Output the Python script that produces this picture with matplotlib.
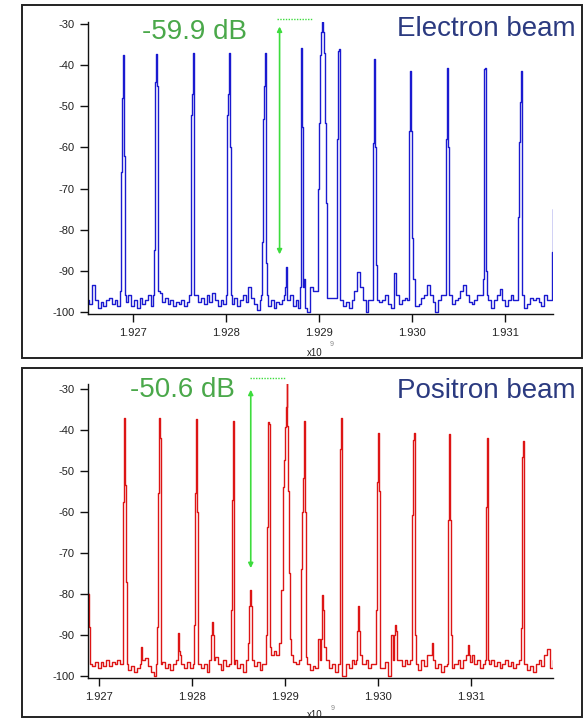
import numpy as np
import matplotlib
matplotlib.use('Agg')
import matplotlib.pyplot as plt
from matplotlib.patches import Rectangle

plt.rcParams['font.family'] = ['Liberation Sans', 'DejaVu Sans']
plt.rcParams['axes.unicode_minus'] = False

# frequencies in units of 1e9 Hz, levels in dB
GRID_STEP = 0.00003   # noise floor sample spacing
PEAK_STEP = 0.00001   # spacing of the values inside a peak

# ---- electron beam ----
e_noise_start = 1.92652
e_noise = [
    -97, -98, -93.5, -97, -99, -97.5, -98.5, -97, -96.5, -98,
    -97, -98.5, -97, -96, -97.5, -96, -98.5, -97, -99, -96.5,
    -98, -97, -96, -98.5, -97, -97, -95.5, -97.5, -96.5, -98,
    -97, -98.5, -97.5, -98, -97, -98.5, -97.5, -96, -97, -96,
    -97.5, -96.5, -98, -96, -97.5, -95.5, -97, -98.5, -97, -98,
    -97, -97, -98, -96.5, -98.5, -97, -96, -97.5, -94, -96.5,
    -98, -99.5, -97, -97, -97, -98.5, -97, -99, -97.5, -98,
    -97, -95, -97.5, -96, -98.5, -97, -96, -96, -99, -100,
    -94, -95, -95, -95, -95, -95, -95, -96.6, -96.5, -96.5,
    -96.5, -97, -98.5, -97.5, -99, -97, -95, -90.2, -94, -97,
    -100, -97, -97, -97, -96.6, -97.7, -97, -96, -98, -99,
    -90.6, -96, -98, -97, -96.5, -97, -97, -97, -98.5, -98,
    -96.5, -96, -93.5, -96, -97.5, -100, -97, -96, -96, -96,
    -97.5, -98, -97, -96.5, -95, -93.5, -96, -97.5, -98, -97,
    -96, -96, -96, -96, -97, -99, -97, -96, -94.5, -97,
    -98.5, -97, -96, -97, -97, -97, -98, -99, -98, -96.5,
    -97, -96.5, -97.5, -98.5, -96, -97, -97, -97,
]
e_peak_start = [1.92687, 1.92723, 1.92762, 1.92801, 1.92839, 1.92863, 1.92879,
                1.92899, 1.92919, 1.92958, 1.92997, 1.93036, 1.93076, 1.93114,
                1.93150]
e_peak_vals = [
    [-95, -66, -48, -37.5, -62, -96],
    [-96, -85, -44, -37.3, -45, -95],
    [-96, -52, -47, -37, -76, -96],
    [-96, -52, -47, -37, -60, -96],
    [-96, -83, -53, -45, -37, -88, -96],
    [-96, -94, -89, -93, -97],
    [-99, -94, -55, -35.8, -55, -94, -92],
    [-95, -70, -54, -37.5, -32, -29.5, -32, -37, -54, -73.5, -88, -96.6, -96.6, -96.6],
    [-96.6, -58, -36.5, -36, -91, -97],
    [-97, -59, -38.5, -60, -88.6, -97],
    [-97, -56, -41.4, -56, -82, -92],
    [-96, -58, -46.5, -40.7, -60, -96],
    [-96, -92, -41, -40.7, -90, -96],
    [-97, -77, -58.6, -49, -41.4, -96],
    [-97, -85.5, -75, -75],
]

# ---- positron beam ----
p_noise_start = 1.92688
p_noise = [
    -97, -97, -97.5, -96.5, -98, -96.5, -97.5, -96, -97.5, -96.5,
    -97, -96, -97, -97, -97, -98.5, -97.5, -99, -98, -95,
    -96, -95.6, -97.5, -99, -100, -97, -97, -96.5, -98, -97,
    -98.5, -97, -96, -95, -97, -98, -96.5, -98, -97, -97,
    -96.5, -98, -97, -99, -96, -96, -95.5, -97, -98.5, -96,
    -97.5, -97, -97, -96, -98, -97, -99, -96, -96, -96,
    -97.5, -96.5, -98.5, -97, -97, -97, -95, -94, -95, -92,
    -92, -92, -92, -92, -96.6, -97, -96, -96, -96, -97,
    -98.5, -97.5, -98, -91, -91, -94, -96, -98, -97, -99,
    -97, -97, -100, -97, -98, -96, -97, -97, -95, -97,
    -96, -98, -97, -97, -97, -97, -98, -96.5, -100, -90,
    -90, -97, -96, -97.5, -96, -97, -97, -97, -97, -98.5,
    -96, -97.5, -95, -95, -96, -98, -97, -99, -97.5, -97.5,
    -97.5, -98, -97, -96, -98, -96, -96, -96.5, -95, -97,
    -96, -98, -97, -97, -97, -96, -97.5, -96.5, -98, -97,
    -96, -97.5, -96.5, -98, -97, -97, -97, -97, -98.5, -97.5,
    -99, -97, -96, -97.5, -95, -93.5, -98, -96,
]
p_peak_start = [1.92688, 1.92725, 1.92745, 1.92762, 1.92784, 1.92802, 1.92820,
                1.92841, 1.92860, 1.92879, 1.92897, 1.92918, 1.92938, 1.92958,
                1.92977, 1.92997, 1.93017, 1.93036, 1.93057, 1.93075, 1.93096,
                1.93115, 1.93153]
p_peak_vals = [
    [-79.8, -80, -88, -97],
    [-97, -57.5, -37, -53.4, -77, -97],
    [-97, -93, -96],
    [-97, -88, -55.4, -37, -42, -97],
    [-96, -89.5, -94],
    [-97, -87.6, -55.4, -37.3, -60, -97],
    [-96, -90, -86.8, -90, -96],
    [-97, -84, -57, -37.8, -97],
    [-96, -92, -83, -79, -83, -96],
    [-97, -90, -63.6, -38, -38.5, -93, -95],
    [-79, -54, -47.3, -39.3, -34.4, -28.5, -39, -55, -75, -91, -95],
    [-74, -60, -51.7, -37.8, -60, -95.5],
    [-96, -91, -80.2, -84, -93],
    [-97, -54.6, -44.6, -37, -100],
    [-96, -89, -83, -89, -95],
    [-97, -84, -52.6, -40.7, -55, -98],
    [-96, -90, -87.5, -89, -96],
    [-96, -60.7, -42.4, -40.7, -90, -97],
    [-95, -92, -94],
    [-97, -62, -41, -62, -90, -98],
    [-95, -92.5, -95],
    [-96, -58.7, -47.3, -42, -96],
    [-96, -88.3, -46.5, -42.7, -97],
]

x_ticks = [1.927, 1.928, 1.929, 1.930, 1.931]
y_ticks = [-30, -40, -50, -60, -70, -80, -90, -100]


def build_trace(noise_start, noise, peak_start, peak_vals):
    nf = noise_start + GRID_STEP * np.arange(len(noise))
    nv = np.array(noise, dtype=float)
    keep = np.ones(len(nf), dtype=bool)
    pf, pv = [], []
    for s, vals in zip(peak_start, peak_vals):
        f = s + PEAK_STEP * np.arange(len(vals))
        keep &= ~((nf > f[0] - PEAK_STEP) & (nf < f[-1] + PEAK_STEP))
        pf.append(f)
        pv.append(np.array(vals, dtype=float))
    f_all = np.concatenate([nf[keep]] + pf)
    v_all = np.concatenate([nv[keep]] + pv)
    order = np.argsort(f_all)
    return f_all[order], v_all[order]


def style_axes(ax, xlim, ylim):
    ax.set_xlim(*xlim)
    ax.set_ylim(*ylim)
    for side in ['top', 'right']:
        ax.spines[side].set_visible(False)
    for side in ['left', 'bottom']:
        ax.spines[side].set_linewidth(1.0)
        ax.spines[side].set_color('#111111')
    ax.set_xticks(x_ticks)
    ax.set_xticklabels(['%.3f' % t for t in x_ticks])
    ax.set_yticks(y_ticks)
    ax.set_yticklabels([str(t) for t in y_ticks])
    ax.tick_params(direction='out', length=5.8, width=1.0, labelsize=8,
                   colors='#111111', labelcolor='#222222')
    ax.tick_params(axis='y', pad=4)
    ax.tick_params(axis='x', pad=4)
    ax.patch.set_alpha(0)


W, H = 586, 719
fig = plt.figure(figsize=(W / 100, H / 100), dpi=100)


def fx(px):
    return px / W


def fy(py):
    return 1 - py / H


# outer frames
fig.patches.append(Rectangle((fx(22), fy(358)), (582 - 22) / W, (358 - 5) / H,
                             transform=fig.transFigure, fill=False, ec='#222222', lw=1.4))
fig.patches.append(Rectangle((fx(22), fy(717)), (582 - 22) / W, (717 - 368) / H,
                             transform=fig.transFigure, fill=False, ec='#222222', lw=1.4))

green_text = '#4aa84a'
green_arrow = '#3ddc3d'
navy = '#2b3a80'

# ---- top panel ----
ax1 = fig.add_axes([fx(88), fy(314), (553 - 88) / W, (314 - 22) / H])
f, v = build_trace(e_noise_start, e_noise, e_peak_start, e_peak_vals)
ax1.plot(f, v, color='#1a1ad0', lw=1.0, drawstyle='steps-mid')
style_axes(ax1, (1.92652, 1.93152), (-100.5, -29.5))
ax1.annotate('', xy=(1.92858, -86.0), xytext=(1.92858, -30.6),
             arrowprops=dict(arrowstyle='<|-|>', color=green_arrow, lw=1.2,
                             mutation_scale=7, shrinkA=0, shrinkB=0),
             annotation_clip=False)
ax1.plot([1.92855, 1.92894], [-28.8, -28.8], color=green_arrow, lw=1.0,
         ls=(0, (1, 1)), clip_on=False)

fig.text(fx(142), fy(39), '-59.9 dB', color=green_text, fontsize=20,
         ha='left', va='baseline')
fig.text(fx(576), fy(36), 'Electron beam', color=navy, fontsize=20,
         ha='right', va='baseline')
fig.text(fx(315), fy(353), 'x10', fontsize=7, ha='center', va='center', color='#222222')
fig.text(fx(332), fy(345), '9', fontsize=5, ha='center', va='center', color='#888888')

# ---- bottom panel ----
ax2 = fig.add_axes([fx(88), fy(678), (553 - 88) / W, (678 - 384) / H])
f, v = build_trace(p_noise_start, p_noise, p_peak_start, p_peak_vals)
ax2.plot(f, v, color='#dd1515', lw=1.0, drawstyle='steps-mid')
style_axes(ax2, (1.92688, 1.93188), (-100.5, -28.8))
ax2.annotate('', xy=(1.92863, -73.7), xytext=(1.92863, -30.2),
             arrowprops=dict(arrowstyle='<|-|>', color=green_arrow, lw=1.2,
                             mutation_scale=7, shrinkA=0, shrinkB=0),
             annotation_clip=False)
ax2.plot([1.92862, 1.92900], [-27.3, -27.3], color=green_arrow, lw=1.0,
         ls=(0, (1, 1)), clip_on=False)

fig.text(fx(130), fy(397), '-50.6 dB', color=green_text, fontsize=20,
         ha='left', va='baseline')
fig.text(fx(576), fy(398), 'Positron beam', color=navy, fontsize=20,
         ha='right', va='baseline')
fig.text(fx(315), fy(715), 'x10', fontsize=7, ha='center', va='center', color='#222222')
fig.text(fx(333), fy(708), '9', fontsize=5, ha='center', va='center', color='#888888')

fig.savefig('out.png', dpi=100, facecolor='white')
